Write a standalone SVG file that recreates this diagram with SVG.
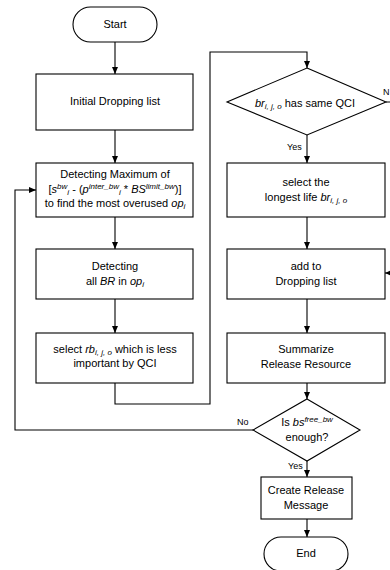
<svg xmlns="http://www.w3.org/2000/svg" width="390" height="570" viewBox="0 0 390 570">
<defs>
<style>
.box{fill:#fff;stroke:#000;stroke-width:1.1}
.t{font-family:"Liberation Sans",Arial,sans-serif;font-size:11px;fill:#000;text-anchor:middle}
.lbl{font-family:"Liberation Sans",Arial,sans-serif;font-size:9px;fill:#000}
.c{fill:none;stroke:#000;stroke-width:1.1}
.i{font-style:italic}
.s{font-size:8px}
</style>
<marker id="ah" markerWidth="8" markerHeight="8" refX="7" refY="4" orient="auto" markerUnits="userSpaceOnUse">
<path d="M0,1 L7,4 L0,7 Z" fill="#000"/>
</marker>
</defs>
<rect width="390" height="570" fill="#fff"/>
<g id="connectors">
<path class="c" d="M115,42 V74" marker-end="url(#ah)"/>
<path class="c" d="M115,130 V163" marker-end="url(#ah)"/>
<path class="c" d="M115,217 V249" marker-end="url(#ah)"/>
<path class="c" d="M115,299 V333" marker-end="url(#ah)"/>
<path class="c" d="M115,383 V404 H210 V52 H307 V68" marker-end="url(#ah)"/>
<path class="c" d="M307,135 V163" marker-end="url(#ah)"/>
<path class="c" d="M386,102 H398 V273 H385" marker-end="url(#ah)"/>
<path class="c" d="M307,217 V249" marker-end="url(#ah)"/>
<path class="c" d="M307,299 V333" marker-end="url(#ah)"/>
<path class="c" d="M307,383 V399" marker-end="url(#ah)"/>
<path class="c" d="M253,430 H15 V190 H36" marker-end="url(#ah)"/>
<path class="c" d="M307,461 V477" marker-end="url(#ah)"/>
<path class="c" d="M307,519 V537" marker-end="url(#ah)"/>
<text class="lbl" x="383" y="95">N</text>
<text class="lbl" x="287" y="150">Yes</text>
<text class="lbl" x="237" y="425">No</text>
<text class="lbl" x="288" y="469">Yes</text>
</g>
<g id="start">
<rect class="box" x="73" y="7" width="84" height="35" rx="17.5"/>
<text class="t" x="115" y="28">Start</text>
</g>
<g id="initial">
<rect class="box" x="36" y="74" width="157" height="56"/>
<text class="t" x="115" y="105">Initial Dropping list</text>
</g>
<g id="detectMax">
<rect class="box" x="36" y="163" width="157" height="54"/>
<text class="t" x="115" y="178">Detecting Maximum of</text>
<text class="t" x="115" y="193">[<tspan class="i">s</tspan><tspan class="i s" dy="-4">bw</tspan><tspan class="i s" dy="6">i</tspan><tspan dy="-2"> - (</tspan><tspan class="i">p</tspan><tspan class="i s" dy="-4">inter_bw</tspan><tspan class="i s" dy="6">i</tspan><tspan dy="-2"> * </tspan><tspan class="i">BS</tspan><tspan class="i s" dy="-4">limit_bw</tspan><tspan dy="4">)]</tspan></text>
<text class="t" x="115" y="207">to find the most overused <tspan class="i">op</tspan><tspan class="i s" dy="2">i</tspan></text>
</g>
<g id="detectBR">
<rect class="box" x="36" y="249" width="157" height="50"/>
<text class="t" x="115" y="270">Detecting</text>
<text class="t" x="115" y="285">all <tspan class="i">BR</tspan> in <tspan class="i">op</tspan><tspan class="i s" dy="2">i</tspan></text>
</g>
<g id="selectRB">
<rect class="box" x="36" y="333" width="157" height="50"/>
<text class="t" x="115" y="353">select  <tspan class="i">rb</tspan><tspan class="i s" dy="2">i, j, o</tspan><tspan dy="-2"> which is less</tspan></text>
<text class="t" x="115" y="367">important by QCI</text>
</g>
<g id="sameQCI">
<polygon class="box" points="307,68 386,102 307,135 227,102"/>
<text class="t" x="305" y="107"><tspan class="i">br</tspan><tspan class="i s" dy="2">i, j, o</tspan><tspan dy="-2"> has same QCI</tspan></text>
</g>
<g id="longest">
<rect class="box" x="227" y="163" width="158" height="54"/>
<text class="t" x="306" y="186">select the</text>
<text class="t" x="306" y="201">longest life <tspan class="i">br</tspan><tspan class="i s" dy="2">i, j, o</tspan></text>
</g>
<g id="addDrop">
<rect class="box" x="227" y="249" width="158" height="50"/>
<text class="t" x="306" y="270">add to</text>
<text class="t" x="306" y="285">Dropping list</text>
</g>
<g id="summarize">
<rect class="box" x="227" y="333" width="158" height="50"/>
<text class="t" x="306" y="353">Summarize</text>
<text class="t" x="306" y="368">Release Resource</text>
</g>
<g id="enough">
<polygon class="box" points="307,399 360,430 307,461 253,430"/>
<text class="t" x="307" y="426">Is <tspan class="i">bs</tspan><tspan class="i s" dy="-4">free_bw</tspan></text>
<text class="t" x="307" y="441">enough?</text>
</g>
<g id="create">
<rect class="box" x="261" y="477" width="91" height="42"/>
<text class="t" x="306" y="494">Create Release</text>
<text class="t" x="306" y="509">Message</text>
</g>
<g id="end">
<rect class="box" x="264" y="537" width="84" height="34" rx="17"/>
<text class="t" x="306" y="557">End</text>
</g>
</svg>
